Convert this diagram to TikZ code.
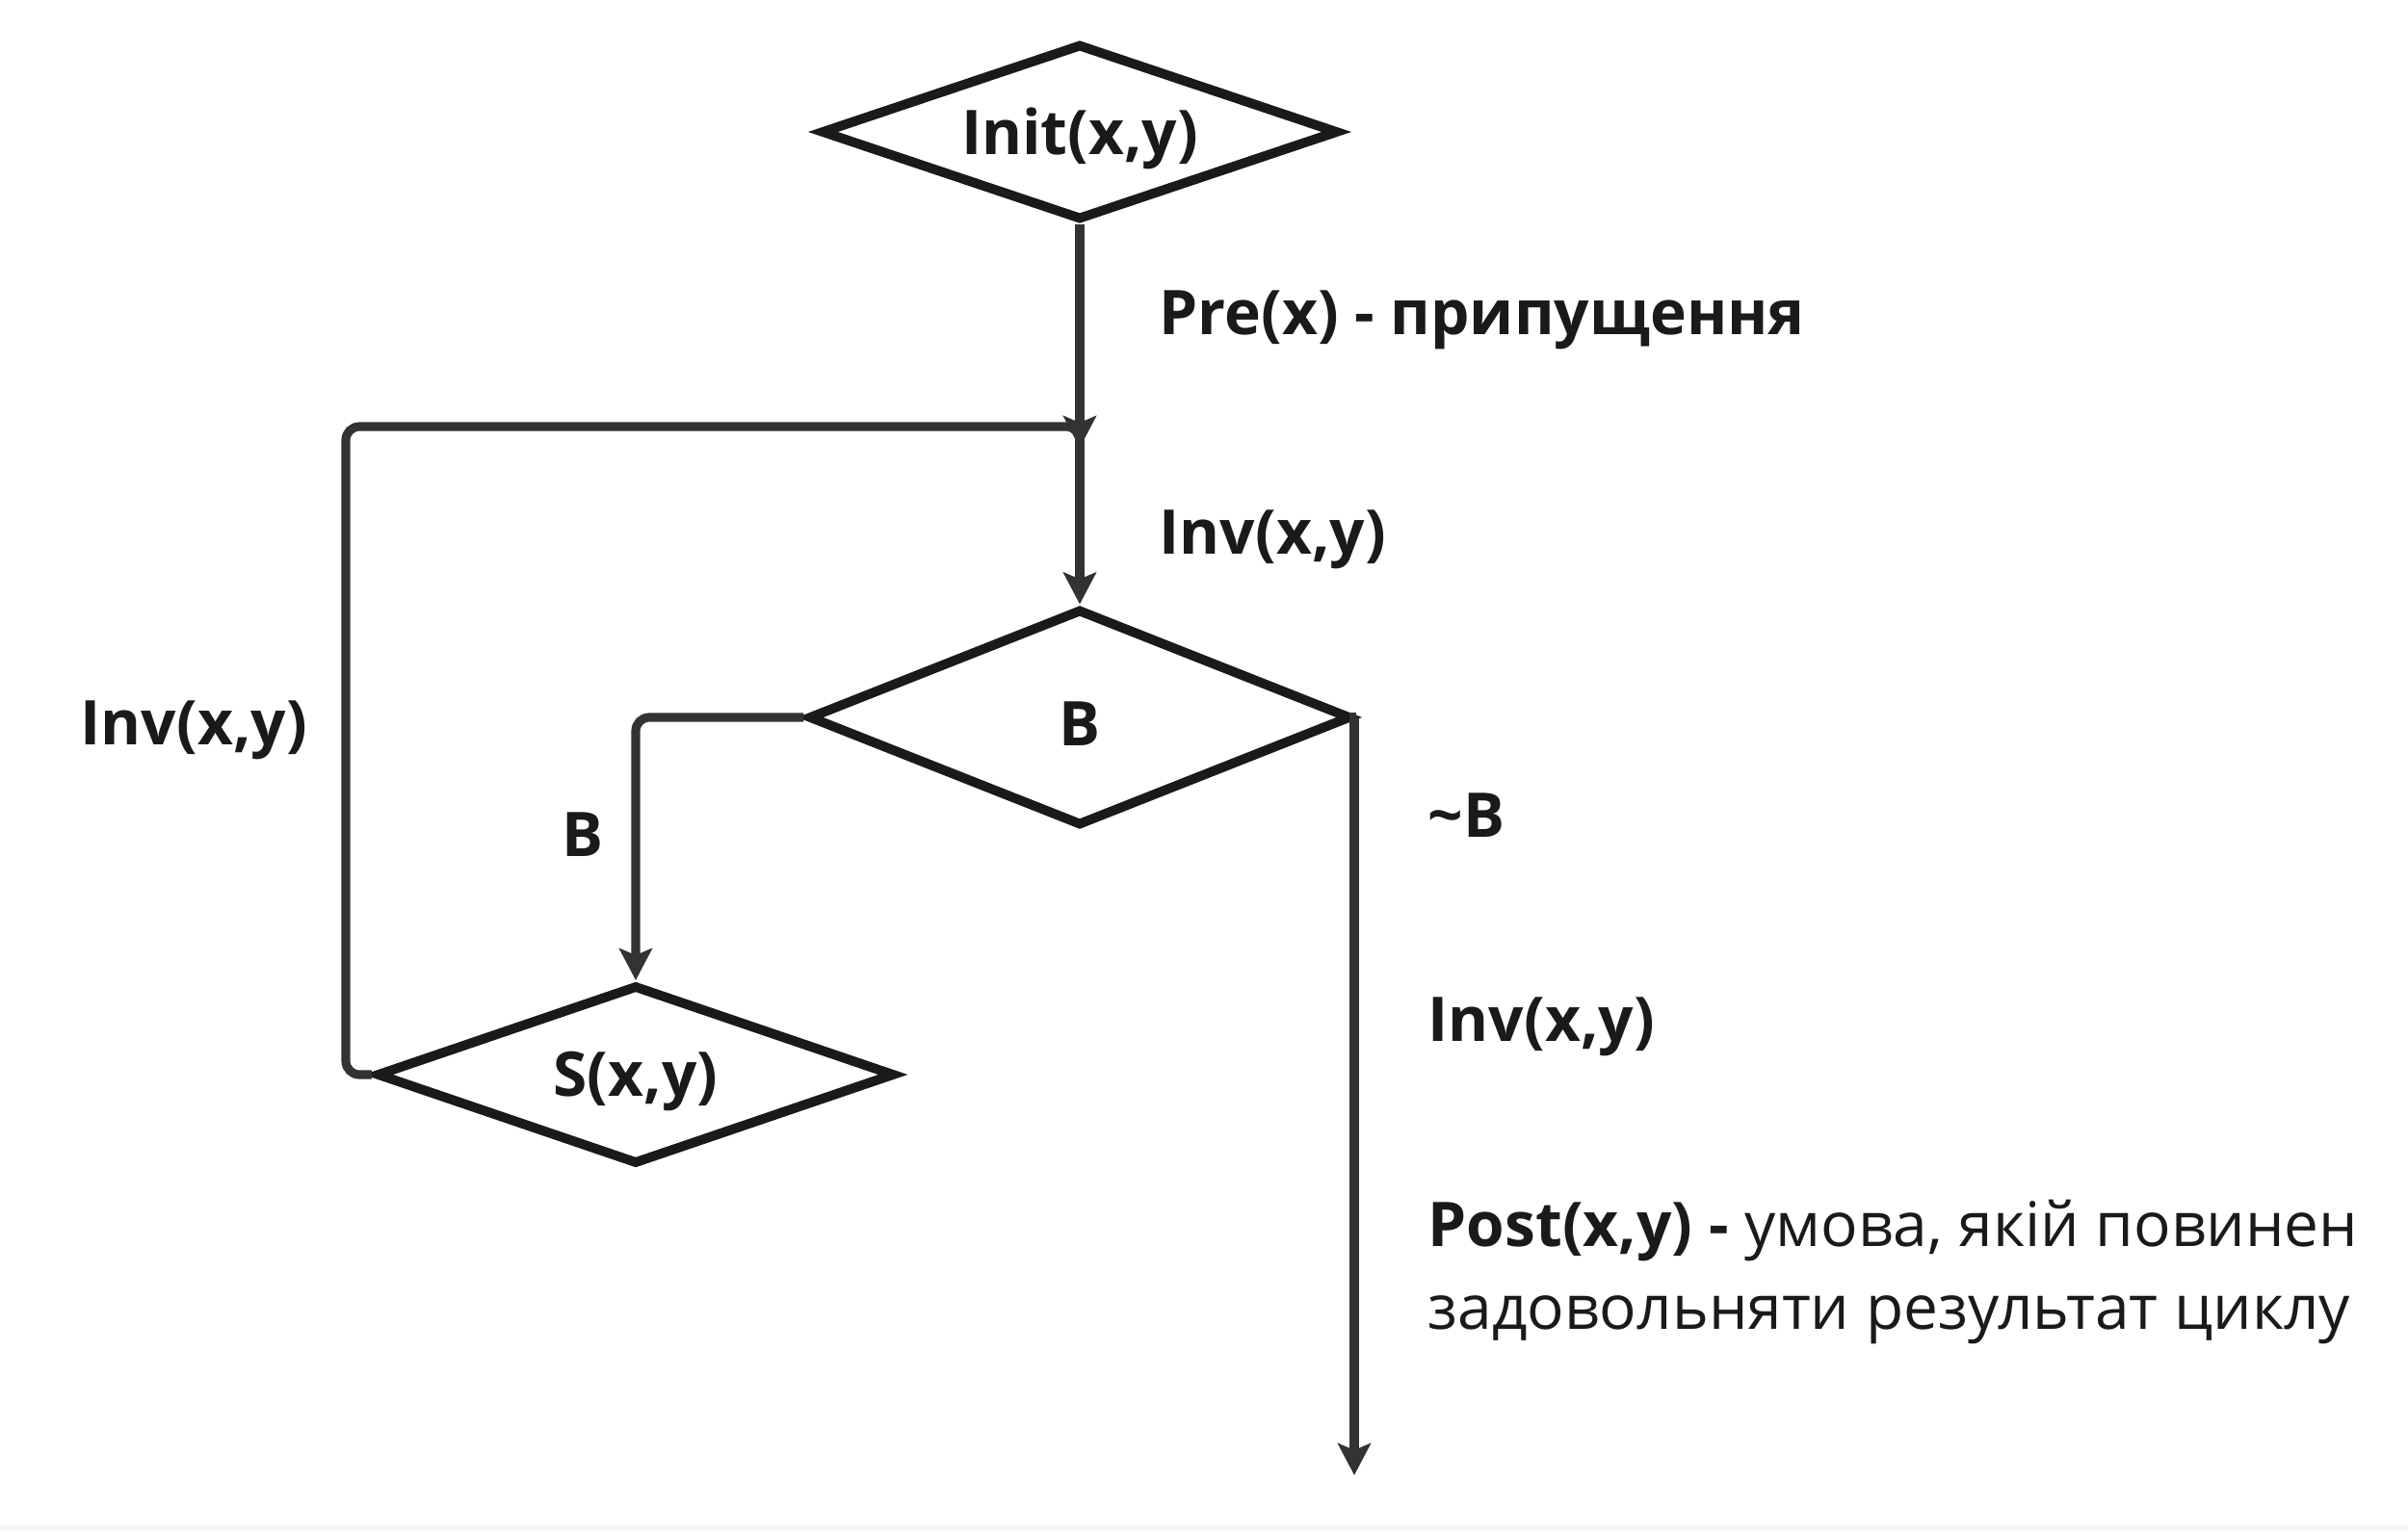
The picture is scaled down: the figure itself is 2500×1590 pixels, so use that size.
\documentclass[tikz,border=0pt]{standalone}
\usepackage{fontspec}
\setmainfont{Open Sans}
\usetikzlibrary{shapes.geometric,arrows.meta}
\definecolor{ink}{HTML}{1A1A1A}
\definecolor{wire}{HTML}{333333}
\newcommand\dlow[1]{\raisebox{-0.07cm}[\height][\depth]{#1}}
\tikzset{
  dia/.style={diamond, aspect=3, draw=ink, line width=2.8pt, inner sep=0pt, fill=white,
    font=\fontsize{18.2}{22}\selectfont\bfseries, text=ink},
  conn/.style={draw=wire, line width=2.6pt, rounded corners=4pt,
    -{Stealth[length=0.33cm, width=0.34cm, inset=0.07cm]}},
  lbl/.style={anchor=base west, inner sep=0pt, text=ink,
    font=\fontsize{18.2}{22}\selectfont\bfseries},
  txt/.style={anchor=base west, inner sep=0pt, text=ink,
    font=\fontsize{18.2}{22}\selectfont}
}
\begin{document}
\begin{tikzpicture}[x=0.01cm, y=-0.01cm]
\useasboundingbox (0,0) rectangle (2500,1590);
\fill[gray!7] (0,1584) rectangle (2500,1590);

\node[dia, minimum width=5.37cm, minimum height=1.83cm] (init) at (1121,137) {\dlow{Init(x,y)}};
\node[dia, minimum width=5.63cm, minimum height=2.25cm] (cond) at (1121,745) {\dlow{B}};
\node[dia, minimum width=5.38cm, minimum height=1.86cm] (body) at (660,1116) {\dlow{S(x,y)}};

\coordinate (join) at (1121,465);
\coordinate (loopcorner) at (359,443);
\coordinate (exit) at (1406,1532);

\draw[conn] (init.south) -- (cond.north);
\draw[conn] (body.west) -- (loopcorner |- body.west) -- (loopcorner) -- (join |- loopcorner) -- (join);
\draw[conn] (cond.west) -- (body.north |- cond.west) -- (body.north);
\draw[conn, rounded corners=0pt] (cond.east) -- (exit |- cond.east) -- (exit);

\node[lbl] (pre) at (1203,347) {Pre(x) - припущення};
\node[lbl] (inv1) at (1203,575) {Inv(x,y)};
\node[lbl] (inv2) at (83,773) {Inv(x,y)};
\node[lbl] (blab) at (583,889) {B};
\node[lbl] (nb) at (1482,869) {\char"007E B};
\node[lbl] (inv3) at (1482,1081) {Inv(x,y)};
\node[txt] (post1) at (1482,1294) {\textbf{Post(x,y) -} умова, якій повинен};
\node[txt] (post2) at (1482,1380) {задовольняти результат циклу};
\end{tikzpicture}
\end{document}
